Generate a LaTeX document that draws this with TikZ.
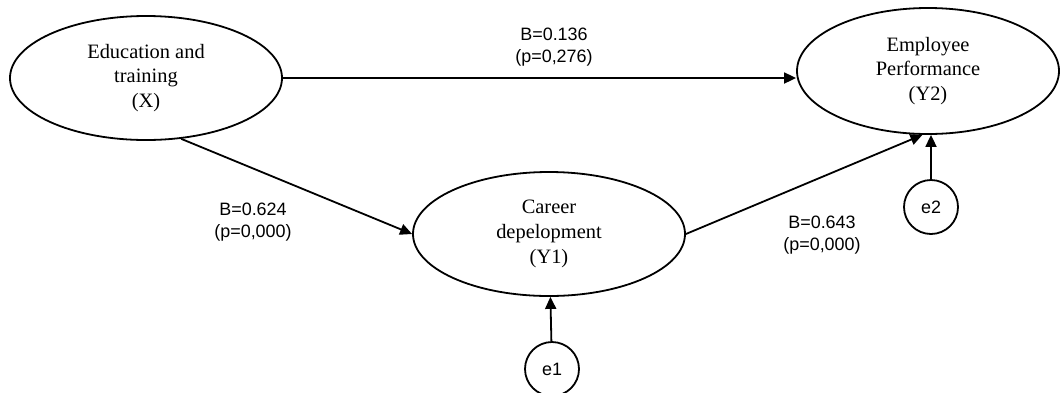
\documentclass[tikz,border=0pt]{standalone}
\usepackage{fontspec}
\setmainfont{Liberation Serif}
\setsansfont{Liberation Sans}
\usepackage{tikz}
\usetikzlibrary{shapes.geometric,arrows.meta}
\definecolor{ink}{HTML}{000000}
\tikzset{
  latent/.style={draw=ink, ellipse, line width=1.8bp, minimum width=272bp, minimum height=124bp, inner sep=0pt, align=center, font=\fontsize{20.5}{25}\selectfont},
  err/.style={draw=ink, circle, line width=1.8bp, minimum size=54bp, inner sep=0pt, font=\sffamily\fontsize{18}{22}\selectfont},
  link/.style={draw=ink, line width=1.8bp, -{Triangle[length=12bp,width=11bp]}},
  coef/.style={text=ink, align=center, inner sep=0pt, font=\sffamily\fontsize{18}{22}\selectfont},
}

\begin{document}
\begin{tikzpicture}[x=1bp, y=-1bp]
  \useasboundingbox (0,0) rectangle (1061,392);
  \node[latent] (X) at (146,78) {Education and\\training\\(X)};
  \node[latent] (Y1) at (549,234) {Career\\depelopment\\(Y1)};
  \node[latent, minimum width=262bp, minimum height=126bp] (Y2) at (928,71) {Employee\\Performance\\(Y2)};
  \node[err] (e1) at (552,369) {e1};
  \node[err] (e2) at (931,207) {e2};
  \draw[link] (X.east) -- (X.east -| Y2.west);
  \draw[link] (X.-60) -- (Y1.west);
  \draw[link] (Y1.east) -- (Y2.265);
  \draw[link] (e1) -- (Y1);
  \draw[link] (e2.north) -- (e2.north |- Y2.south);
  \node[coef] (bXY2) at (554,47) {B=0.136\\(p=0,276)};
  \node[coef] (bXY1) at (253,222) {B=0.624\\(p=0,000)};
  \node[coef] (bY1Y2) at (822,235) {B=0.643\\(p=0,000)};
\end{tikzpicture}
\end{document}
